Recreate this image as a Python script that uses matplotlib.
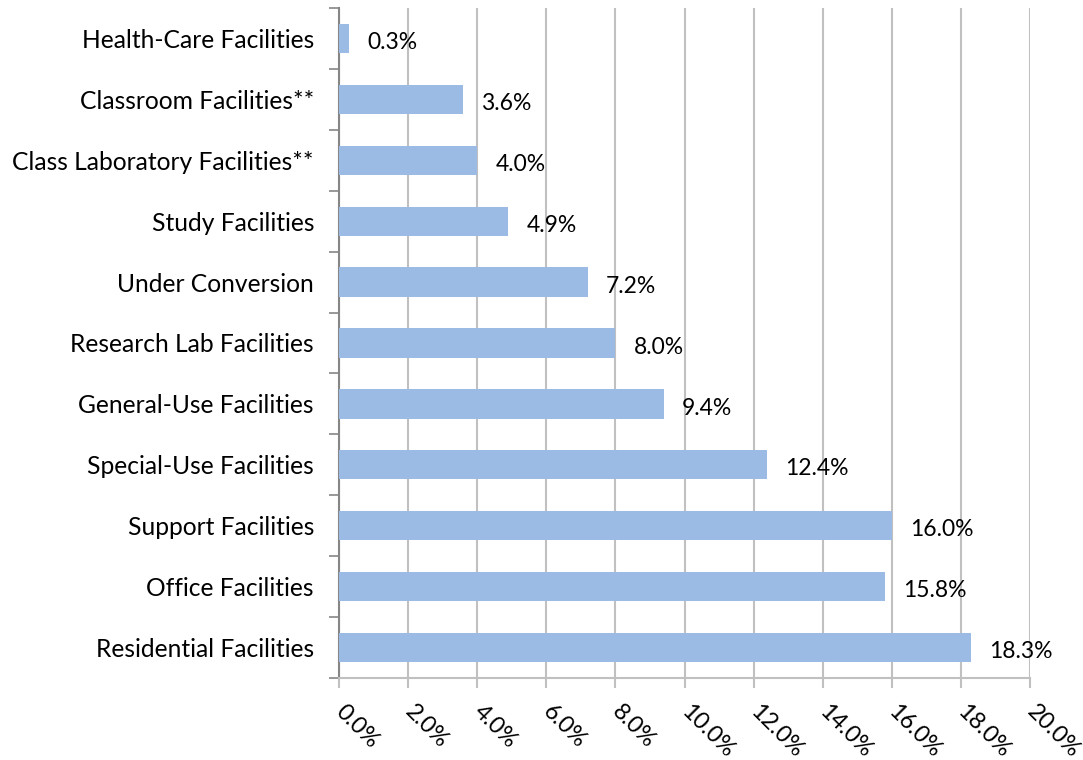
import matplotlib
matplotlib.use('Agg')
import matplotlib.pyplot as plt
from matplotlib.ticker import MultipleLocator, FuncFormatter, FixedLocator

plt.rcParams['font.family'] = ['Lato', 'DejaVu Sans']

categories = ['Health-Care Facilities', 'Classroom Facilities**', 'Class Laboratory Facilities**',
              'Study Facilities', 'Under Conversion', 'Research Lab Facilities',
              'General-Use Facilities', 'Special-Use Facilities', 'Support Facilities',
              'Office Facilities', 'Residential Facilities']
shares = [0.3, 3.6, 4.0, 4.9, 7.2, 8.0, 9.4, 12.4, 16.0, 15.8, 18.3]

bar_color = '#9bbbe5'
grid_color = '#c0c0c0'

fig = plt.figure(figsize=(10.83, 7.60), dpi=100)
ax = fig.add_axes([339/1083, 82/760, 691/1083, 670/760])

n = len(categories)
ypos = [n - 1 - i for i in range(n)]
ax.barh(ypos, shares, height=0.48, color=bar_color, zorder=3)

for y, v in zip(ypos, shares):
    ax.annotate(f'{v:.1f}%', (v, y), xytext=(13, -3), textcoords='offset points',
                ha='left', va='center', fontsize=16.5, color='black', zorder=4)

ax.set_xlim(0, 20)
ax.set_ylim(-0.5, n - 0.5)
ax.xaxis.set_major_locator(MultipleLocator(2))
ax.xaxis.set_major_formatter(FuncFormatter(lambda x, p: f'{x:.1f}%'))
ax.grid(axis='x', color=grid_color, linewidth=1.5, zorder=0)

ax.set_yticks(ypos)
ax.set_yticklabels(categories, fontsize=17.7)
ax.tick_params(axis='y', length=0, pad=18)
# tick marks between categories
ax.yaxis.set_minor_locator(FixedLocator([i - 0.5 for i in range(n + 1)]))
ax.tick_params(axis='y', which='minor', length=7, width=1.2, color='#868686')

ax.tick_params(axis='x', length=7, width=1.5, color=grid_color, pad=15, labelsize=16.8)
for lbl in ax.get_xticklabels():
    lbl.set_rotation(-45)
    lbl.set_ha('left')
    lbl.set_va('center')
    lbl.set_rotation_mode('anchor')

for s in ['top', 'right']:
    ax.spines[s].set_visible(False)
ax.spines['bottom'].set_color(grid_color)
ax.spines['bottom'].set_linewidth(1.5)
ax.spines['left'].set_color('#868686')
ax.spines['left'].set_linewidth(1.5)

fig.savefig('out.png', dpi=100)
